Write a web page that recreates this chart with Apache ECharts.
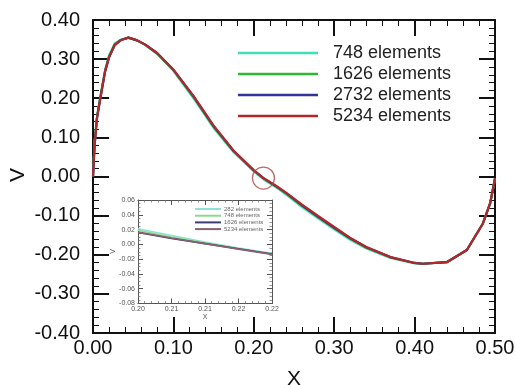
<!DOCTYPE html>
<html>
<head>
<meta charset="utf-8">
<script src="https://cdn.jsdelivr.net/npm/echarts@6/dist/echarts.min.js"></script>
<style>html,body{margin:0;padding:0;background:#fff}#c{width:516px;height:385px}</style>
</head>
<body>
<div id="c"></div>
<script>
// ---- main chart data ----
const mainX = [0, 0.002, 0.005, 0.01, 0.015, 0.02, 0.027, 0.035, 0.044, 0.055, 0.065, 0.08, 0.1, 0.125, 0.15, 0.175, 0.2, 0.212, 0.228, 0.24, 0.26, 0.28, 0.3, 0.32, 0.34, 0.37, 0.4, 0.41, 0.44, 0.465, 0.485, 0.494, 0.5];
const v748  = [0, 0.085, 0.155, 0.215, 0.272, 0.31, 0.34, 0.35, 0.355, 0.347, 0.336, 0.313, 0.27, 0.2, 0.124, 0.062, 0.013, -0.007, -0.028, -0.046, -0.078, -0.107, -0.135, -0.162, -0.184, -0.208, -0.222, -0.223, -0.219, -0.188, -0.12, -0.068, -0.005];
const v1626 = [0, 0.09, 0.152, 0.212, 0.27, 0.307, 0.338, 0.349, 0.355, 0.348, 0.337, 0.314, 0.272, 0.203, 0.127, 0.064, 0.015, -0.005, -0.026, -0.043, -0.075, -0.104, -0.132, -0.159, -0.182, -0.207, -0.221, -0.223, -0.219, -0.188, -0.12, -0.068, -0.005];
const v2732 = [0, 0.08, 0.15, 0.21, 0.268, 0.305, 0.336, 0.349, 0.355, 0.348, 0.337, 0.315, 0.273, 0.205, 0.129, 0.065, 0.016, -0.004, -0.025, -0.042, -0.074, -0.103, -0.131, -0.158, -0.181, -0.206, -0.221, -0.223, -0.219, -0.188, -0.12, -0.068, -0.005];
const v5234 = [0, 0.08, 0.15, 0.21, 0.268, 0.305, 0.336, 0.349, 0.355, 0.348, 0.337, 0.315, 0.273, 0.206, 0.13, 0.066, 0.016, -0.004, -0.024, -0.041, -0.072, -0.101, -0.129, -0.157, -0.18, -0.206, -0.221, -0.223, -0.219, -0.188, -0.12, -0.068, -0.005];
const mainNames = ['748 elements', '1626 elements', '2732 elements', '5234 elements'];
const mainColors = ['#3fe0b4', '#2fb830', '#33339a', '#b02828'];
const mainXTicks = [0, 0.1, 0.2, 0.3, 0.4, 0.5];
const mainYTicks = [-0.4, -0.3, -0.2, -0.1, 0, 0.1, 0.2, 0.3, 0.4];
const circleCenter = [0.212, -0.004];

// ---- inset data ----
const insetX = [0.2, 0.205, 0.21, 0.215, 0.22];
const in282  = [0.021, 0.012, 0.003, -0.005, -0.012];
const in748  = [0.019, 0.010, 0.002, -0.006, -0.013];
const in1626 = [0.016, 0.008, 0.001, -0.006, -0.013];
const in5234 = [0.0165, 0.0085, 0.001, -0.0065, -0.0135];
const insetNames = ['282 elements', '748 elements', '1626 elements', '5234 elements'];
const insetColors = ['#8fe3d6', '#8fd98f', '#3c3c78', '#8a6070'];
const insetXTickLabels = ['0.20', '0.21', '0.21', '0.22', '0.22'];
const insetYTicks = [-0.08, -0.06, -0.04, -0.02, 0, 0.02, 0.04, 0.06];

const FONT = 'Liberation Sans, Arial, sans-serif';
const pair = (xs, ys) => xs.map((x, i) => [x, ys[i]]);
const insetKeys = ['in282', 'in748', 'in1626', 'in5234'];

function mainAxis(common, extra) { return Object.assign({}, common, extra); }
const mainXCommon = {
  gridIndex: 0, type: 'value', min: mainXTicks[0], max: mainXTicks[mainXTicks.length - 1], interval: 0.1,
  axisLine: { show: true, onZero: false, lineStyle: { color: '#111', width: 2 } },
  axisTick: { show: true, inside: true, length: 16, lineStyle: { color: '#111', width: 2 } },
  minorTick: { show: true, splitNumber: 5, length: 6, lineStyle: { color: '#111', width: 1 } },
  splitLine: { show: false }
};
const mainYCommon = {
  gridIndex: 0, type: 'value', min: mainYTicks[0], max: mainYTicks[mainYTicks.length - 1], interval: 0.1,
  axisLine: { show: true, onZero: false, lineStyle: { color: '#111', width: 2 } },
  axisTick: { show: true, inside: true, length: 16, lineStyle: { color: '#111', width: 2 } },
  minorTick: { show: true, splitNumber: 5, length: 6, lineStyle: { color: '#111', width: 1 } },
  splitLine: { show: false }
};
const inXCommon = {
  gridIndex: 1, type: 'value', min: insetX[0], max: insetX[insetX.length - 1], interval: 0.005,
  axisLine: { show: true, onZero: false, lineStyle: { color: '#555', width: 1 } },
  axisTick: { show: true, inside: true, length: 5, lineStyle: { color: '#555', width: 1 } },
  minorTick: { show: true, splitNumber: 5, length: 2.5, lineStyle: { color: '#777', width: 0.8 } },
  splitLine: { show: false }
};
const inYCommon = {
  gridIndex: 1, type: 'value', min: insetYTicks[0], max: insetYTicks[insetYTicks.length - 1], interval: 0.02,
  axisLine: { show: true, onZero: false, lineStyle: { color: '#555', width: 1 } },
  axisTick: { show: true, inside: true, length: 5, lineStyle: { color: '#555', width: 1 } },
  minorTick: { show: true, splitNumber: 4, length: 2.5, lineStyle: { color: '#777', width: 0.8 } },
  splitLine: { show: false }
};

const series = [];
[v748, v1626, v2732, v5234].forEach((ys, i) => {
  series.push({
    name: mainNames[i], type: 'line', xAxisIndex: 0, yAxisIndex: 0,
    data: pair(mainX, ys), symbol: 'none', smooth: false,
    color: mainColors[i], lineStyle: { width: 2.2, color: mainColors[i] }, z: 3 + i
  });
});
series.push({
  name: 'zoomCircle', type: 'scatter', xAxisIndex: 0, yAxisIndex: 0,
  data: [circleCenter], symbol: 'circle', symbolSize: 22, silent: true, z: 10,
  itemStyle: { color: 'rgba(0,0,0,0)', borderColor: '#a84848', borderWidth: 1.3 }
});
[in282, in748, in1626, in5234].forEach((ys, i) => {
  series.push({
    name: insetKeys[i], type: 'line', xAxisIndex: 2, yAxisIndex: 2,
    data: pair(insetX, ys), symbol: 'none',
    color: insetColors[i], lineStyle: { width: 1.6, color: insetColors[i] }, z: 3 + i
  });
});

const option = {
  animation: false,
  backgroundColor: '#fff',
  textStyle: { fontFamily: FONT },
  grid: [
    { left: 93, right: 21, top: 20, bottom: 52, outerBoundsMode: 'none', containLabel: false },
    { left: 138, right: 244, top: 200, bottom: 81.5, show: true, backgroundColor: '#fff', borderWidth: 0, outerBoundsMode: 'none', containLabel: false }
  ],
  legend: [
    {
      data: mainNames, orient: 'vertical', left: 233, top: 39, icon: 'rect',
      itemWidth: 80, itemHeight: 2.5, itemGap: 3, selectedMode: false,
      textStyle: { fontSize: 18, color: '#222', fontFamily: FONT, padding: [0, 0, 0, 10] }
    },
    {
      data: insetKeys, orient: 'vertical', left: 190, top: 201, icon: 'rect',
      itemWidth: 26, itemHeight: 2, itemGap: 0.7, selectedMode: false,
      formatter: (n) => insetNames[insetKeys.indexOf(n)],
      textStyle: { fontSize: 6, color: '#666', fontFamily: FONT, padding: [0, 0, 0, -2] }
    }
  ],
  graphic: [
    { type: 'text', left: 8, top: 168, rotation: Math.PI / 2,
      style: { text: 'V', fontSize: 21, fill: '#111', fontFamily: FONT } },
    { type: 'text', left: 110, top: 249, rotation: Math.PI / 2,
      style: { text: 'V', fontSize: 7, fill: '#555', fontFamily: FONT } }
  ],
  xAxis: [
    mainAxis(mainXCommon, {
      position: 'bottom',
      axisLabel: { fontSize: 20, color: '#111', margin: 5, fontFamily: FONT, formatter: v => v.toFixed(2) },
      name: 'X', nameLocation: 'middle', nameGap: 36,
      nameTextStyle: { fontSize: 21, color: '#111', fontFamily: FONT }
    }),
    mainAxis(mainXCommon, { position: 'top', axisLabel: { show: false } }),
    mainAxis(inXCommon, {
      position: 'bottom',
      axisLabel: { fontSize: 7, color: '#555', margin: 2, fontFamily: FONT,
        formatter: v => insetXTickLabels[Math.round((v - insetX[0]) / 0.005)] },
      name: 'X', nameLocation: 'middle', nameGap: 9,
      nameTextStyle: { fontSize: 7, color: '#555', fontFamily: FONT }
    }),
    mainAxis(inXCommon, { position: 'top', axisLabel: { show: false } })
  ],
  yAxis: [
    mainAxis(mainYCommon, {
      position: 'left',
      axisLabel: { fontSize: 20, color: '#111', margin: 13, fontFamily: FONT, formatter: v => v.toFixed(2) }
    }),
    mainAxis(mainYCommon, { position: 'right', axisLabel: { show: false } }),
    mainAxis(inYCommon, {
      position: 'left',
      axisLabel: { fontSize: 7, color: '#555', margin: 3, fontFamily: FONT, formatter: v => v.toFixed(2) }
    }),
    mainAxis(inYCommon, { position: 'right', axisLabel: { show: false } })
  ],
  series: series
};
const chart = echarts.init(document.getElementById('c'), null, { renderer: 'canvas' });
chart.setOption(option);
</script>
</body>
</html>
